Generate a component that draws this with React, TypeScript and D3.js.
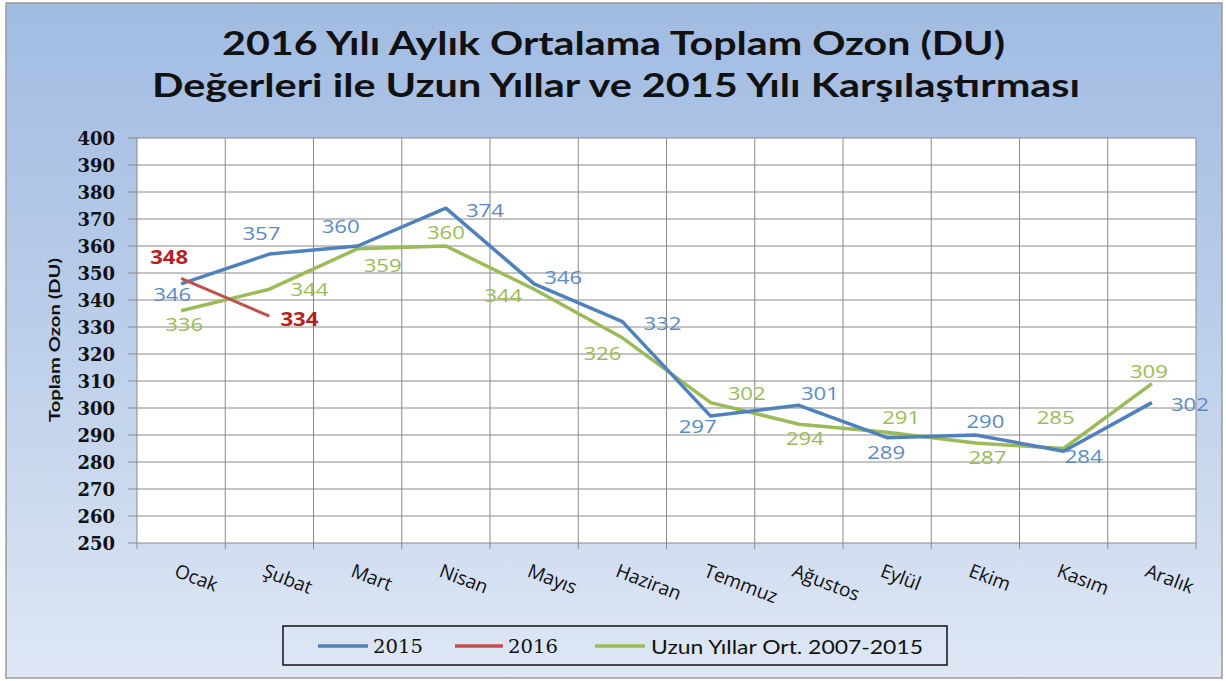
import React from "react";
import * as d3 from "d3";

const months = ["Ocak", "Şubat", "Mart", "Nisan", "Mayıs", "Haziran", "Temmuz", "Ağustos", "Eylül", "Ekim", "Kasım", "Aralık"];
const values2015 = [346, 357, 360, 374, 346, 332, 297, 301, 289, 290, 284, 302];
const values2016 = [348, 334];
const valuesLongTerm = [336, 344, 359, 360, 344, 326, 302, 294, 291, 287, 285, 309];
const yTicks = [250, 260, 270, 280, 290, 300, 310, 320, 330, 340, 350, 360, 370, 380, 390, 400];
const seriesNames = ["2015", "2016", "Uzun Yıllar Ort. 2007-2015"];
const titleLines = ["2016 Yılı Aylık Ortalama Toplam Ozon (DU)", "Değerleri ile Uzun Yıllar ve 2015 Yılı Karşılaştırması"];
const yAxisTitle = "Toplam Ozon (DU)";

// label offsets (layout only)
const off2015 = [[-9, 10], [-8, -21], [-17, -20], [39, 2], [29, -7], [40, 1], [-13, 10], [21, -12], [-1, 14], [10, -14], [20, 5], [38, 1]];
const off2016 = [[-12, -21], [30, 3]];
const offLong = [[3, 13], [40, 0], [25, 16], [0, -14], [-31, 6], [-20, 15], [36, -10], [6, 14], [14, -15], [12, 14], [-8, -32], [-3, -13]];

const W = 1226, H = 681;
const M = { left: 137, right: 1196, top: 138, bottom: 543 };

const C2015 = "#4f81bd", C2016 = "#c0504d", CLong = "#9bbb59";
const L2015 = "#5b8ac6", L2016 = "#b3221f", LLong = "#9bbb59";
const SANS = "Lato, 'Open Sans', sans-serif";
const SANS2 = "'Open Sans', Lato, sans-serif";
const SERIF = "'DejaVu Serif', serif";

export default function App() {
  const x = d3.scaleBand<string>().domain(months).range([M.left, M.right]).padding(0);
  const y = d3.scaleLinear().domain([250, 400]).range([M.bottom, M.top]);
  const cx = (i: number) => (x(months[i]) as number) + x.bandwidth() / 2;
  const line = d3.line<number>().x((_, i) => cx(i)).y((v) => y(v));

  const labels = (vals: number[], offs: number[][], color: string, bold: boolean) =>
    vals.map((v, i) => (
      <text key={i} x={cx(i) + offs[i][0]} y={y(v) + offs[i][1]} textAnchor="middle" dominantBaseline="central"
        fill={color} fontFamily={SANS2} fontSize={19} fontWeight={bold ? 700 : 500} textLength={38} lengthAdjust="spacingAndGlyphs">
        {v}
      </text>
    ));

  const legendItems = [
    { name: seriesNames[0], color: C2015, x1: 318, x2: 368, tx: 373, font: SERIF, len: 50 },
    { name: seriesNames[1], color: C2016, x1: 455, x2: 503, tx: 508, font: SERIF, len: 50 },
    { name: seriesNames[2], color: CLong, x1: 595, x2: 645, tx: 651, font: SANS, len: 272 },
  ];

  return (
    <svg width={W} height={H} style={{ position: "absolute", left: 0, top: 0 }}>
      <defs>
        <linearGradient id="bg" x1="0" y1="0" x2="0" y2="1">
          <stop offset="0" stopColor="#a1bbe2" />
          <stop offset="0.5" stopColor="#bccfea" />
          <stop offset="1" stopColor="#dfe7f4" />
        </linearGradient>
      </defs>
      <rect x={0} y={0} width={W} height={H} fill="#ffffff" />
      <rect x={6} y={3} width={1216} height={675} fill="url(#bg)" stroke="#9a9a9a" strokeWidth={1.5} />

      {titleLines.map((t, i) => (
        <text key={i} x={i === 0 ? 613.5 : 616} y={i === 0 ? 55 : 97} textAnchor="middle" fontFamily={SANS} fontWeight={700}
          fontSize={32} fill="#111" textLength={i === 0 ? 783 : 928} lengthAdjust="spacingAndGlyphs">
          {t}
        </text>
      ))}

      <rect x={M.left} y={M.top} width={M.right - M.left} height={M.bottom - M.top} fill="#ffffff" />
      {yTicks.map((t) => (
        <g key={t}>
          <line x1={M.left - 9} x2={M.right} y1={y(t)} y2={y(t)} stroke="#8a8a8a" strokeWidth={1} />
          <text x={115} y={y(t)} textAnchor="end" dominantBaseline="central" fontFamily={SERIF} fontWeight={700} fontSize={18} fill="#111">
            {t}
          </text>
        </g>
      ))}
      {months.map((m) => (
        <line key={m} x1={x(m) as number} x2={x(m) as number} y1={M.top} y2={M.bottom + 6} stroke="#8a8a8a" strokeWidth={1} />
      ))}
      <line x1={M.right} x2={M.right} y1={M.top} y2={M.bottom + 6} stroke="#8a8a8a" strokeWidth={1} />

      {months.map((m, i) => (
        <text key={m} transform={`translate(${cx(i) - 8},${576}) rotate(21)`} fontFamily={SANS2} fontSize={19} fill="#111">
          {m}
        </text>
      ))}

      <text transform={`translate(60,340) rotate(-90)`} textAnchor="middle" fontFamily={SANS} fontWeight={700} fontSize={16} fill="#111"
        textLength={164} lengthAdjust="spacingAndGlyphs">
        {yAxisTitle}
      </text>

      <path d={line(valuesLongTerm) || ""} fill="none" stroke={CLong} strokeWidth={3.5} strokeLinejoin="round" />
      <path d={line(values2015) || ""} fill="none" stroke={C2015} strokeWidth={3.5} strokeLinejoin="round" />
      <path d={line(values2016) || ""} fill="none" stroke={C2016} strokeWidth={3} strokeLinejoin="round" />

      {labels(valuesLongTerm, offLong, LLong, false)}
      {labels(values2015, off2015, L2015, false)}
      {labels(values2016, off2016, L2016, true)}

      <rect x={283} y={626} width={664} height={39} fill="none" stroke="#111" strokeWidth={1.5} />
      {legendItems.map((it) => (
        <g key={it.name}>
          <line x1={it.x1} x2={it.x2} y1={646} y2={646} stroke={it.color} strokeWidth={3.5} />
          <text x={it.tx} y={646} dominantBaseline="central" fontFamily={it.font} fontSize={19} fill="#111" textLength={it.len} lengthAdjust="spacingAndGlyphs">
            {it.name}
          </text>
        </g>
      ))}
    </svg>
  );
}
